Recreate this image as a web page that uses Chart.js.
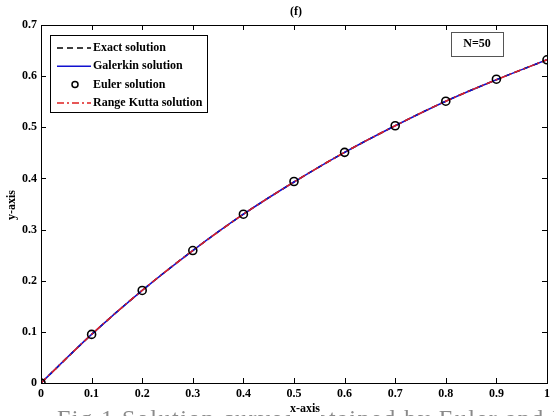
<!DOCTYPE html>
<html>
<head>
<meta charset="utf-8">
<script src="https://cdn.jsdelivr.net/npm/chart.js@4.4.0/dist/chart.umd.min.js"></script>
<style>
html, body { margin: 0; padding: 0; background: #fff; }
#wrap { width: 554px; height: 416px; position: relative; }
</style>
</head>
<body>
<div id="wrap"><canvas id="chart"></canvas></div>
<script>
// valores
const xValues = [0, 0.1, 0.2, 0.3, 0.4, 0.5, 0.6, 0.7, 0.8, 0.9, 1];
const exactValues = [0, 0.095, 0.181, 0.259, 0.330, 0.393, 0.451, 0.503, 0.551, 0.593, 0.632];
const galerkinValues = [0, 0.095, 0.181, 0.259, 0.330, 0.393, 0.451, 0.503, 0.551, 0.593, 0.632];
const eulerValues = [0, 0.095, 0.181, 0.259, 0.330, 0.394, 0.451, 0.503, 0.551, 0.594, 0.632];
const rungeKuttaValues = [0, 0.095, 0.181, 0.259, 0.330, 0.393, 0.451, 0.503, 0.551, 0.593, 0.632];
const xTicks = [0, 0.1, 0.2, 0.3, 0.4, 0.5, 0.6, 0.7, 0.8, 0.9, 1];
const yTicks = [0, 0.1, 0.2, 0.3, 0.4, 0.5, 0.6, 0.7];
const seriesLabels = ['Exact solution', 'Galerkin solution', 'Euler solution', 'Range Kutta solution'];

const serif = '"Liberation Serif", "DejaVu Serif", serif';
const toPoints = ys => xValues.map((x, i) => ({ x: x, y: ys[i] }));

// moldura, marcas internas, legenda, caixa N=50 e textos
const decor = {
    id: 'decor',
    afterDatasetsDraw(chart) {
        const ctx = chart.ctx;
        const a = chart.chartArea;
        const xs = chart.scales.x, ys = chart.scales.y;
        ctx.save();
        ctx.strokeStyle = '#000';
        ctx.lineWidth = 1;
        ctx.beginPath();
        xTicks.forEach(v => {
            const px = Math.round(xs.getPixelForValue(v)) + 0.5;
            ctx.moveTo(px, a.bottom); ctx.lineTo(px, a.bottom - 5);
            ctx.moveTo(px, a.top); ctx.lineTo(px, a.top + 5);
        });
        yTicks.forEach(v => {
            const py = Math.round(ys.getPixelForValue(v)) + 0.5;
            ctx.moveTo(a.left, py); ctx.lineTo(a.left + 5, py);
            ctx.moveTo(a.right, py); ctx.lineTo(a.right - 5, py);
        });
        ctx.stroke();
        ctx.strokeRect(Math.round(a.left) + 0.5, Math.round(a.top) + 0.5,
            Math.round(a.right - a.left), Math.round(a.bottom - a.top));

        // legenda
        const lx = 50, ly = 35, lw = 157, lh = 77;
        ctx.fillStyle = '#fff';
        ctx.fillRect(lx, ly, lw, lh);
        ctx.strokeStyle = '#000';
        ctx.strokeRect(lx + 0.5, ly + 0.5, lw, lh);
        ctx.font = 'bold 12px ' + serif;
        ctx.textBaseline = 'middle';
        ctx.textAlign = 'left';
        chart.data.datasets.forEach((ds, i) => {
            const cy = ly + 13 + i * 18.3;
            ctx.save();
            if (ds.showLine === false) {
                ctx.strokeStyle = ds.pointBorderColor;
                ctx.lineWidth = 1.5;
                ctx.beginPath();
                ctx.arc(75, cy, 3, 0, Math.PI * 2);
                ctx.stroke();
            } else {
                ctx.strokeStyle = ds.borderColor;
                ctx.lineWidth = ds.borderWidth;
                ctx.setLineDash(ds.borderDash || []);
                ctx.beginPath();
                ctx.moveTo(57, cy); ctx.lineTo(91, cy);
                ctx.stroke();
            }
            ctx.restore();
            ctx.fillStyle = '#000';
            ctx.fillText(ds.label, 93, cy);
        });

        // caixa N=50
        ctx.fillStyle = '#fff';
        ctx.fillRect(451, 32, 52, 24);
        ctx.strokeStyle = '#555';
        ctx.strokeRect(451.5, 32.5, 52, 24);
        ctx.fillStyle = '#000';
        ctx.textAlign = 'center';
        ctx.fillText('N=50', 477, 44);

        // título
        ctx.font = 'bold 12px ' + serif;
        ctx.fillText('(f)', 296, 12);

        // legenda da figura (cortada na borda)
        ctx.save();
        ctx.font = '24px ' + serif;
        ctx.letterSpacing = '1.5px';
        ctx.fillStyle = '#8a8a8a';
        ctx.textAlign = 'left';
        ctx.textBaseline = 'alphabetic';
        ctx.fillText('Fig.1 Solution curves obtained by Euler and Range Kutta', 57, 426);
        ctx.restore();

        // títulos dos eixos
        ctx.font = 'bold 12px ' + serif;
        ctx.fillStyle = '#fff';
        ctx.fillRect(290, 402, 31, 14);
        ctx.fillStyle = '#000';
        ctx.textAlign = 'center';
        ctx.textBaseline = 'middle';
        ctx.fillText('x-axis', 305, 409);
        ctx.translate(12, 205);
        ctx.rotate(-Math.PI / 2);
        ctx.fillText('y-axis', 0, 0);
        ctx.restore();
    }
};

new Chart(document.getElementById('chart').getContext('2d'), {
    type: 'line',
    data: {
        datasets: [{
            label: seriesLabels[0],
            data: toPoints(exactValues),
            borderColor: '#000',
            borderWidth: 1.5,
            borderDash: [6, 4],
            pointRadius: 0,
            cubicInterpolationMode: 'monotone',
            order: 4
        }, {
            label: seriesLabels[1],
            data: toPoints(galerkinValues),
            borderColor: '#1010d0',
            borderWidth: 1.5,
            pointRadius: 0,
            cubicInterpolationMode: 'monotone',
            order: 3
        }, {
            label: seriesLabels[2],
            data: toPoints(eulerValues),
            showLine: false,
            pointRadius: 4,
            pointBorderWidth: 1.6,
            pointBorderColor: '#000',
            pointBackgroundColor: 'rgba(0,0,0,0)',
            order: 1
        }, {
            label: seriesLabels[3],
            data: toPoints(rungeKuttaValues),
            borderColor: '#e02020',
            borderWidth: 1.5,
            borderDash: [7, 3, 2, 3],
            pointRadius: 0,
            cubicInterpolationMode: 'monotone',
            order: 2
        }]
    },
    options: {
        responsive: true,
        maintainAspectRatio: false,
        animation: false,
        layout: { padding: { top: 25, right: 2, left: 0, bottom: 0 } },
        scales: {
            x: {
                type: 'linear',
                min: 0,
                max: 1,
                afterBuildTicks: s => { s.ticks = xTicks.map(v => ({ value: v })); },
                afterFit: s => { s.height = 33; },
                grid: { display: false, drawTicks: false },
                border: { display: false },
                ticks: {
                    padding: 4,
                    color: '#000',
                    maxRotation: 0,
                    font: { family: serif, size: 12, weight: 'bold' },
                    callback: v => String(v)
                }
            },
            y: {
                min: 0,
                max: 0.7,
                afterBuildTicks: s => { s.ticks = yTicks.map(v => ({ value: v })); },
                afterFit: s => { s.width = 41; },
                grid: { display: false, drawTicks: false },
                border: { display: false },
                ticks: {
                    padding: 4,
                    color: '#000',
                    font: { family: serif, size: 12, weight: 'bold' },
                    callback: v => String(v)
                }
            }
        },
        plugins: {
            legend: { display: false },
            tooltip: { enabled: false }
        }
    },
    plugins: [decor]
});
</script>
</body>
</html>
